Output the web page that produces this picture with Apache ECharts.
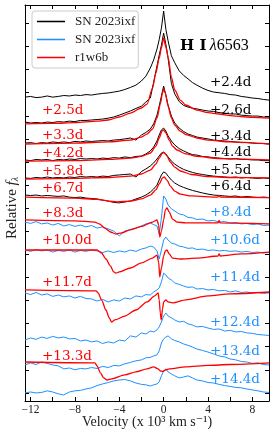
<!DOCTYPE html>
<html><head><meta charset="utf-8">
<script src="https://cdn.jsdelivr.net/npm/echarts@6/dist/echarts.min.js"></script>
<style>html,body{margin:0;padding:0;background:#fff}#c{width:274px;height:434px}</style>
</head><body><div id="c"></div>
<script>
// Velocity grid (10^3 km/s) shared by the observed spectra
const velocityGrid = [-12.5,-12,-11.5,-11,-10.5,-10,-9.5,-9,-8.5,-8,-7.5,-7,-6.5,-6,-5.5,-5,-4.5,-4,-3.5,-3,-2.5,-2,-1.6,-1.2,-0.9,-0.6,-0.4,-0.2,0,0.2,0.4,0.7,1.0,1.4,1.8,2.2,2.6,3.0,3.5,4,4.5,5,5.5,6,6.5,7,7.5,8,8.5,9,9.5];

// Observed SN 2023ixf spectra, early (black), offset relative flux
const spec24 = [12.81,12.84,12.79,12.81,12.86,12.81,12.84,12.88,12.86,12.90,12.88,12.92,12.90,12.94,12.97,12.99,13.03,13.07,13.14,13.23,13.33,13.51,13.72,14.07,14.42,14.89,15.30,15.80,16.54,15.75,15.25,14.60,14.30,13.95,13.75,13.60,13.44,13.33,13.20,13.10,13.03,13.00,12.97,12.92,12.90,12.84,12.81,12.77,12.75,12.71,12.68];
const spec26 = [11.73,11.69,11.71,11.69,11.73,11.71,11.75,11.73,11.77,11.75,11.80,11.80,11.82,11.84,11.86,11.90,11.95,12.03,12.12,12.21,12.32,12.42,12.60,12.77,13.46,14.16,14.63,15.06,15.58,15.10,14.50,13.40,12.95,12.62,12.45,12.38,12.33,12.30,12.25,12.21,12.19,12.14,12.12,12.08,12.08,12.03,12.01,11.99,11.99,11.95,11.95];
const spec34 = [10.82,10.84,10.80,10.84,10.82,10.87,10.84,10.87,10.84,10.89,10.87,10.91,10.89,10.91,10.93,10.91,10.95,10.97,11.00,11.04,10.95,11.17,11.28,11.43,11.65,12.03,12.42,12.86,13.29,12.90,12.47,11.99,11.69,11.47,11.32,11.21,11.15,11.08,11.04,11.00,10.95,10.93,10.91,10.89,10.87,10.84,10.84,10.82,10.80,10.80,10.78];
const spec44 = [10.09,10.06,10.11,10.09,10.11,10.06,10.11,10.09,10.13,10.11,10.15,10.13,10.15,10.13,10.17,10.15,10.19,10.17,10.22,10.19,10.24,10.26,10.35,10.48,10.65,10.91,11.17,11.39,11.47,11.34,11.13,10.91,10.74,10.58,10.48,10.39,10.32,10.30,10.24,10.22,10.19,10.17,10.15,10.13,10.15,10.11,10.11,10.09,10.09,10.06,10.06];
const spec55 = [9.31,9.29,9.33,9.31,9.35,9.31,9.33,9.31,9.35,9.33,9.37,9.35,9.37,9.35,9.39,9.37,9.42,9.44,9.46,9.48,9.35,9.59,9.70,9.83,9.96,10.13,10.26,10.39,10.43,10.35,10.22,10.04,9.91,9.78,9.68,9.61,9.55,9.50,9.46,9.42,9.39,9.37,9.35,9.33,9.35,9.31,9.33,9.31,9.29,9.31,9.29];
const spec64 = [8.57,8.55,8.57,8.53,8.55,8.53,8.51,8.53,8.48,8.46,8.48,8.44,8.42,8.40,8.35,8.31,8.25,8.23,8.27,8.31,8.40,8.48,8.57,8.70,8.83,9.00,9.22,9.44,9.57,9.52,9.39,9.22,9.09,8.98,8.90,8.83,8.77,8.72,8.66,8.61,8.57,8.55,8.53,8.51,8.53,8.48,8.51,8.48,8.46,8.48,8.46];

// Observed SN 2023ixf spectra, later (blue)
const spec84 = [7.40,7.34,7.42,7.32,7.36,7.27,7.34,7.23,7.29,7.21,7.27,7.19,7.25,7.14,7.19,7.10,7.01,6.80,7.01,7.08,7.14,7.23,7.32,7.36,7.29,7.23,6.88,7.58,8.53,8.40,8.14,7.97,7.88,7.75,7.71,7.60,7.58,7.51,7.53,7.45,7.47,7.40,7.42,7.36,7.38,7.32,7.34,7.29,7.32,7.25,7.27];
const spec106 = [6.19,6.13,6.21,6.15,6.19,6.10,6.17,6.13,6.19,6.10,6.17,6.13,6.19,6.15,6.08,6.15,6.08,6.15,6.10,6.19,6.13,6.23,6.28,6.36,6.32,6.15,5.80,6.19,6.62,6.75,6.62,6.49,6.45,6.36,6.32,6.26,6.28,6.21,6.23,6.17,6.19,6.15,6.17,6.13,6.15,6.10,6.13,6.08,6.10,6.06,6.08];
const spec114 = [4.33,4.26,4.35,4.24,4.29,4.18,4.24,4.16,4.20,4.11,4.18,4.09,4.07,3.98,4.05,3.94,4.03,3.98,4.11,4.07,4.20,4.16,4.26,4.24,4.37,4.46,4.55,4.81,5.19,5.11,4.98,4.89,4.76,4.70,4.63,4.57,4.59,4.50,4.52,4.46,4.48,4.42,4.44,4.37,4.42,4.35,4.37,4.33,4.35,4.31,4.33];
const spec124 = [2.29,2.38,2.32,2.42,2.36,2.45,2.38,2.42,2.34,2.36,2.25,2.29,2.21,2.25,2.14,2.21,2.16,2.29,2.25,2.47,2.42,2.60,2.55,2.68,2.64,2.73,2.86,3.07,3.33,3.46,3.33,3.25,3.16,3.07,3.10,2.99,2.94,2.86,2.88,2.81,2.75,2.77,2.68,2.71,2.64,2.66,2.60,2.58,2.53,2.51,2.49];
const spec134 = [1.21,1.30,1.23,1.34,1.28,1.21,1.17,1.04,1.08,1.00,1.06,1.04,1.10,1.06,1.15,1.10,1.19,1.17,1.26,1.32,1.39,1.43,1.52,1.54,1.60,1.65,1.82,2.16,2.34,2.42,2.47,2.34,2.27,2.21,2.12,2.06,1.99,1.90,1.84,1.77,1.69,1.60,1.56,1.47,1.43,1.36,1.34,1.28,1.30,1.23,1.21];
const spec144 = [0.00,0.04,0.00,0.02,0.09,0.04,-0.04,-0.09,0.04,0.09,0.11,0.17,0.22,0.32,0.39,0.45,0.52,0.56,0.58,0.52,0.43,0.37,0.35,0.30,0.35,0.39,0.48,0.74,0.95,1.04,0.91,0.82,0.74,0.65,0.69,0.74,0.65,0.56,0.52,0.45,0.43,0.37,0.32,0.28,0.24,0.22,0.17,0.13,0.09,0.04,0.02];

// r1w6b model spectra: [velocity, offset relative flux]
const model25 = [[-12.5,11.65],[-10,11.67],[-8,11.71],[-6,11.77],[-5,11.82],[-4,11.95],[-3,12.12],[-2,12.34],[-1.5,12.51],[-1.0,13.20],[-0.7,13.85],[-0.4,14.50],[-0.2,14.94],[0,15.37],[0.2,14.98],[0.4,14.55],[0.7,13.68],[1.0,13.12],[1.5,12.68],[2.0,12.47],[3.0,12.25],[4.0,12.14],[5,12.08],[6,12.01],[7,11.97],[8,11.93],[9.5,11.90]];
const model33 = [[-12.5,10.78],[-8,10.82],[-5,10.87],[-3,10.95],[-2,11.08],[-1.5,11.21],[-1,11.43],[-0.6,11.90],[-0.3,12.51],[-0.1,12.99],[0,13.16],[0.15,12.99],[0.4,12.42],[0.7,11.90],[1.0,11.60],[1.5,11.34],[2,11.19],[3,11.04],[4,10.95],[6,10.87],[9.5,10.78]];
const model42 = [[-12.5,10.04],[-8,10.06],[-5,10.11],[-3,10.17],[-2,10.24],[-1.2,10.39],[-0.7,10.69],[-0.4,11.04],[-0.15,11.34],[0,11.39],[0.2,11.26],[0.5,10.95],[0.8,10.69],[1.2,10.52],[2,10.35],[3,10.24],[5,10.15],[9.5,10.09]];
const model58 = [[-12.5,9.26],[-8,9.29],[-5,9.33],[-3,9.39],[-2,9.48],[-1.2,9.65],[-0.7,9.91],[-0.4,10.17],[-0.1,10.39],[0.05,10.41],[0.3,10.26],[0.6,10.00],[1.0,9.78],[1.5,9.61],[2.5,9.46],[4,9.37],[6,9.33],[9.5,9.31]];
const model67 = [[-12.5,8.48],[-8,8.44],[-6,8.38],[-5,8.31],[-4.2,8.27],[-3,8.31],[-2,8.40],[-1.2,8.57],[-0.7,8.79],[-0.4,9.05],[-0.1,9.31],[0.05,9.35],[0.3,9.22],[0.6,8.96],[1.0,8.74],[1.5,8.61],[2.5,8.53],[4.9,8.48],[5.0,8.55],[5.1,8.48],[9.5,8.46]];
const model83 = [[-12.5,7.49],[-8,7.45],[-6.2,7.40],[-5.8,7.32],[-5.3,7.14],[-4.8,6.97],[-4.3,6.88],[-3.8,6.93],[-3,7.06],[-2,7.21],[-1,7.40],[-0.6,7.49],[-0.45,7.27],[-0.35,6.75],[-0.2,7.01],[0,7.49],[0.15,7.92],[0.3,8.01],[0.5,7.84],[0.8,7.53],[1.2,7.40],[2,7.36],[4.9,7.36],[5.0,7.47],[5.1,7.36],[9.5,7.32]];
const model100 = [[-12.5,6.19],[-6.0,6.19],[-5.6,6.06],[-5.2,5.80],[-4.8,5.50],[-4.5,5.24],[-4.3,5.19],[-4.0,5.24],[-3,5.41],[-2,5.63],[-1,5.84],[-0.6,5.97],[-0.45,5.67],[-0.35,5.02],[-0.2,5.41],[0,5.93],[0.15,6.15],[0.3,6.19],[0.5,6.02],[0.8,5.84],[1.5,5.80],[3,5.84],[4.9,5.93],[5.0,6.02],[5.1,5.93],[7,6.02],[9.5,6.10]];
const model117 = [[-12.5,4.46],[-6.1,4.42],[-5.9,4.33],[-5.6,4.03],[-5.2,3.59],[-4.9,3.25],[-4.7,3.07],[-4.4,3.16],[-3.5,3.33],[-2.5,3.59],[-1.5,3.94],[-0.8,4.20],[-0.5,4.33],[-0.4,4.03],[-0.3,3.46],[-0.22,3.16],[-0.1,3.64],[0,3.94],[0.2,4.03],[0.4,3.94],[0.8,3.90],[2,4.03],[4,4.20],[6,4.29],[9.5,4.37]];
const model133 = [[-12.5,1.34],[-6.2,1.30],[-6.0,1.17],[-5.7,0.87],[-5.4,0.65],[-5.1,0.56],[-4.7,0.61],[-3.5,0.78],[-2.5,0.91],[-1.5,1.04],[-0.9,1.13],[-0.5,1.04],[-0.3,0.95],[-0.1,0.93],[0.2,1.00],[0.5,1.04],[2,1.13],[4,1.19],[6,1.23],[9.5,1.30]];

// Phase labels
const earlyPhases = ['+2.4d','+2.6d','+3.4d','+4.4d','+5.5d','+6.4d'];
const latePhases = ['+8.4d','+10.6d','+11.4d','+12.4d','+13.4d','+14.4d'];
const modelPhases = ['+2.5d','+3.3d','+4.2d','+5.8d','+6.7d','+8.3d','+10.0d','+11.7d','+13.3d'];
const legendNames = {obsEarly:'SN 2023ixf', obsLate:'SN 2023ixf', model:'r1w6b'};
const xTickValues = [-12,-10,-8,-6,-4,-2,0,2,4,6,8];
const xLabelValues = [-12,-8,-4,0,4,8];
const yTickValues = [0,1,2,3,4,5,6,7,8,9,10,11,12,13,14,15,16];

const earlySpectra = [spec24,spec26,spec34,spec44,spec55,spec64];
const lateSpectra = [spec84,spec106,spec114,spec124,spec134,spec144];
const models = [model25,model33,model42,model58,model67,model83,model100,model117,model133];

// layout of annotations (pixels)
const earlyLabelY = [82,110,136,152,170,186];
const lateLabelY = [212,240,277,322,351,379];
const modelLabelY = [110,135,153,171,188,213,240,282,356];

const BLACK = '#000000', BLUE = '#1E90FF', RED = '#FF0000';
const SERIF = '"Liberation Serif", "DejaVu Serif", serif';
const LSERIF = '"DejaVu Serif", serif';
const LINE_ICON = 'path://M0,0L100,0L100,5.5L0,5.5Z';

function onGrid(ys){ return velocityGrid.map((v,i)=>[v, ys[i]]); }

const series = [];
earlySpectra.forEach(s=>series.push({type:'line', name:'obsEarly', data:onGrid(s), symbol:'none', silent:true, z:2,
  lineStyle:{color:BLACK,width:1}, itemStyle:{color:BLACK}}));
lateSpectra.forEach(s=>series.push({type:'line', name:'obsLate', data:onGrid(s), symbol:'none', silent:true, z:2,
  lineStyle:{color:BLUE,width:1}, itemStyle:{color:BLUE}}));
models.forEach(m=>series.push({type:'line', name:'model', data:m, symbol:'none', silent:true, z:3, smooth:0.25, smoothMonotone:'x',
  lineStyle:{color:RED,width:1.3}, itemStyle:{color:RED}}));

const graphics = [];
earlyPhases.forEach((t,i)=>graphics.push({type:'text', x:210, y:earlyLabelY[i], silent:true,
  style:{text:t, fill:BLACK, font:'13.5px '+LSERIF, textAlign:'left', textVerticalAlign:'middle', align:'left', verticalAlign:'middle'}}));
latePhases.forEach((t,i)=>graphics.push({type:'text', x:210, y:lateLabelY[i], silent:true,
  style:{text:t, fill:BLUE, font:'13.5px '+LSERIF, textAlign:'left', textVerticalAlign:'middle', align:'left', verticalAlign:'middle'}}));
modelPhases.forEach((t,i)=>graphics.push({type:'text', x:42, y:modelLabelY[i], silent:true,
  style:{text:t, fill:RED, font:'13.5px '+LSERIF, textAlign:'left', textVerticalAlign:'middle', align:'left', verticalAlign:'middle'}}));
graphics.push({type:'text', x:180, y:46, silent:true, style:{
  text:'{b|H I} {i|λ}{n|6563}', textVerticalAlign:'middle', verticalAlign:'middle',
  rich:{b:{fontFamily:'DejaVu Serif', fontWeight:'bold', fontSize:15, fill:BLACK, color:BLACK},
        i:{fontFamily:'Liberation Serif', fontStyle:'italic', fontSize:16, fill:BLACK, color:BLACK},
        n:{fontFamily:'Liberation Serif', fontSize:16, fill:BLACK, color:BLACK}}}});
graphics.push({type:'text', x:147, y:422, silent:true, style:{
  text:'Velocity (x 10³ km s⁻¹)', fill:'#222', font:'14px '+SERIF, textAlign:'center', textVerticalAlign:'middle', align:'center', verticalAlign:'middle'}});
graphics.push({type:'text', x:12, y:208, rotation:Math.PI/2, silent:true, style:{
  text:'{a|Relative }{f|f}{l|λ}', textAlign:'center', textVerticalAlign:'middle', align:'center', verticalAlign:'middle',
  rich:{a:{fontFamily:'Liberation Serif', fontSize:15, fill:'#222', color:'#222'},
        f:{fontFamily:'Liberation Serif', fontStyle:'italic', fontSize:15, fill:'#222', color:'#222'},
        l:{fontFamily:'Liberation Serif', fontStyle:'italic', fontSize:10, fill:'#222', color:'#222', padding:[6,0,0,0]}}}});

function xAxisCfg(pos, labels){
  return {type:'value', min:-12.5, max:9.5, position:pos,
    axisLine:{show:true, onZero:false, lineStyle:{color:BLACK, width:1}},
    axisTick:{show:true, inside:true, length:4, customValues:xTickValues, lineStyle:{color:BLACK}},
    axisLabel:{show:labels, customValues:xLabelValues, margin:3, color:'#222', fontFamily:'Liberation Serif', fontSize:11.5,
      formatter:v=> v<0 ? '\u2212'+Math.abs(v) : String(v)},
    splitLine:{show:false}};
}
function yAxisCfg(pos){
  return {type:'value', min:-0.35, max:16.8, position:pos,
    axisLine:{show:true, onZero:false, lineStyle:{color:BLACK, width:1}},
    axisTick:{show:true, inside:true, length:4, customValues:yTickValues, lineStyle:{color:BLACK}},
    axisLabel:{show:false}, splitLine:{show:false}};
}

const chart = echarts.init(document.getElementById('c'), null, {renderer:'canvas'});
chart.setOption({
  animation:false,
  backgroundColor:'#fff',
  grid:{left:25, right:5, top:5, bottom:33, containLabel:false},
  xAxis:[xAxisCfg('bottom', true), xAxisCfg('top', false)],
  yAxis:[yAxisCfg('left'), yAxisCfg('right')],
  legend:{data:[{name:'obsEarly', icon:LINE_ICON},{name:'obsLate', icon:LINE_ICON},{name:'model', icon:LINE_ICON}],
    orient:'vertical', left:32, top:11,
    padding:[4,3,4,5], itemGap:5, itemWidth:28, itemHeight:14,
    backgroundColor:'rgba(255,255,255,0.85)', borderColor:'#cccccc', borderWidth:1, borderRadius:3,
    formatter:n=>legendNames[n], selectedMode:false,
    textStyle:{fontFamily:'Liberation Serif', fontSize:13, color:'#222', padding:[0,0,0,5]}},
  series:series,
  graphic:graphics
});
</script>
</body></html>
